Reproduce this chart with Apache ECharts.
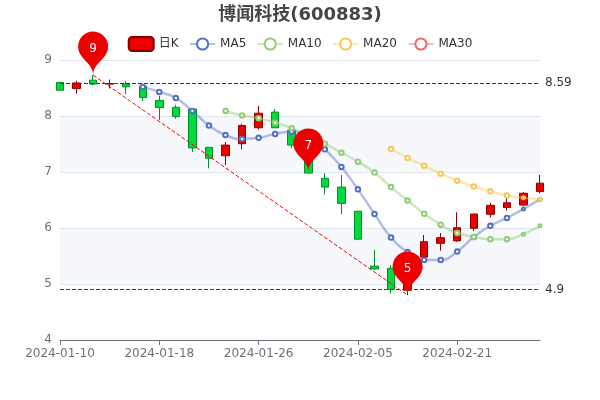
<!DOCTYPE html>
<html><head><meta charset="utf-8">
<script src="https://cdn.jsdelivr.net/npm/echarts@6/dist/echarts.min.js"></script>
<style>html,body{margin:0;padding:0;background:#fff}#c{width:600px;height:400px}</style>
</head><body><div id="c"></div>
<script>
const title = '博闻科技(600883)';
const dates = ['2024-01-10','2024-01-11','2024-01-12','2024-01-15','2024-01-16','2024-01-17','2024-01-18','2024-01-19','2024-01-22','2024-01-23','2024-01-24','2024-01-25','2024-01-26','2024-01-29','2024-01-30','2024-01-31','2024-02-01','2024-02-02','2024-02-05','2024-02-06','2024-02-07','2024-02-08','2024-02-19','2024-02-20','2024-02-21','2024-02-22','2024-02-23','2024-02-26','2024-02-27','2024-02-28'];
const opens  = [8.60,8.49,8.64,8.57,8.57,8.535,8.28,8.155,8.125,7.44,7.29,7.505,7.79,8.07,7.745,7.45,6.887,6.73,6.30,5.32,5.28,4.89,5.48,5.727,5.77,5.995,6.245,6.365,6.41,6.65];
const closes = [8.46,8.59,8.57,8.58,8.52,8.33,8.15,7.99,7.43,7.245,7.48,7.83,8.05,7.79,7.48,6.98,6.73,6.44,5.80,5.27,4.905,5.40,5.755,5.827,6.005,6.25,6.405,6.45,6.62,6.80];
const lows   = [8.46,8.40,8.55,8.49,8.39,8.27,7.93,7.95,7.36,7.065,7.125,7.405,7.76,7.79,7.43,6.98,6.60,6.245,5.80,5.25,4.83,4.80,5.48,5.595,5.755,5.945,6.19,6.31,6.39,6.62];
const highs  = [8.61,8.63,8.73,8.65,8.625,8.535,8.36,8.20,8.125,7.44,7.535,7.86,8.18,8.125,7.75,7.50,6.98,6.95,6.30,5.61,5.34,5.45,5.875,5.91,6.28,6.25,6.45,6.54,6.64,6.95];
const ma5  = ['-','-','-','-','-',8.52,8.43,8.32,8.09,7.83,7.66,7.59,7.61,7.68,7.72,7.68,7.405,7.09,6.69,6.25,5.83,5.57,5.43,5.43,5.58,5.84,6.04,6.18,6.34,6.51];
const ma10 = ['-','-','-','-','-','-','-','-','-','-',8.09,8.01,7.96,7.88,7.78,7.63,7.505,7.345,7.185,6.99,6.73,6.49,6.255,6.06,5.91,5.84,5.80,5.80,5.89,6.04];
const ma20 = ['-','-','-','-','-','-','-','-','-','-','-','-','-','-','-','-','-','-','-','-',7.41,7.25,7.11,6.97,6.845,6.74,6.655,6.58,6.54,6.51];
const ma30 = [];
const pinDates  = ['2024-01-12','2024-01-31','2024-02-08'];
const pinCoords = [8.73,7.0,4.80];
const pinLabels = ['9','7','5'];
const levelValues = [8.59,4.9];
const trendDates = ['2024-01-12','2024-02-08'];
const trendValues = [8.73,4.80];

const chart = echarts.init(document.getElementById('c'), null, {renderer:'canvas'});
const font = 'DejaVu Sans, "Noto Sans CJK SC", sans-serif';
function maSeries(name, data, color){
  return {name, type:'line', data, smooth:true, showSymbol:true, symbol:'emptyCircle',
    symbolSize:(v,p)=>p.dataIndex>=28?3:4.5,
    itemStyle:{color, borderWidth:2},
    lineStyle:{width:2.5, opacity:0.45, color}, animation:false};
}
chart.setOption({
  animation:false,
  color:['#c23531','#5470C6','#91CC75','#FAC858','#EE6666'],
  textStyle:{fontFamily:font},
  title:{text:title, left:'center', top:1, textStyle:{fontSize:18,fontWeight:'bold',color:'#464646',fontFamily:font}},
  legend:{top:31, left:'center', itemGap:10.5, data:['日K','MA5','MA10','MA20','MA30'], textStyle:{fontSize:12,color:'#333',fontFamily:font}},
  grid:{left:60,right:60,top:60,bottom:60},
  xAxis:{type:'category', data:dates, boundaryGap:false,
    axisLine:{lineStyle:{color:'#6E7079'}}, axisTick:{show:true,alignWithLabel:true,interval:5},
    axisLabel:{interval:5,color:'#6E7079',fontSize:12,fontFamily:font,hideOverlap:false}, splitLine:{show:false}},
  yAxis:{type:'value', min:4, max:9, interval:1, axisLine:{show:false}, axisTick:{show:false},
    axisLabel:{color:'#6E7079',fontSize:12,fontFamily:font},
    splitLine:{show:true,lineStyle:{color:'#E0E6F1'}},
    splitArea:{show:true,areaStyle:{color:['rgba(255,255,255,0)','#F6F8FC']}}},
  series:[
    {name:'日K', type:'candlestick', barWidth:8, animation:false,
     data:dates.map((d,i)=>[opens[i],closes[i],lows[i],highs[i]]),
     itemStyle:{color:'#ec0000',color0:'#00da3c',borderColor:'#8A0000',borderColor0:'#008F28'},
     markPoint:{symbol:'pin',symbolSize:50,animation:false,
       itemStyle:{color:'#ec0000'},
       label:{color:'#fff',fontSize:12,fontFamily:font},
       data:pinDates.map((d,i)=>({coord:[d,pinCoords[i]],value:pinLabels[i]}))},
     markLine:{symbol:'none',animation:false,silent:true,
       label:{position:'end',color:'#333',fontSize:12,fontFamily:font},
       data:[
         ...levelValues.map(v=>({yAxis:v,lineStyle:{color:'#c00000',type:'dashed',width:1}})),
         [{coord:[trendDates[0],trendValues[0]],lineStyle:{color:'#ff0000',type:'dashed',width:1},label:{show:false}},
          {coord:[trendDates[1],trendValues[1]]}]
       ]}},
    maSeries('MA5',ma5,'#5470C6'),
    maSeries('MA10',ma10,'#91CC75'),
    maSeries('MA20',ma20,'#FAC858'),
    maSeries('MA30',ma30,'#EE6666')
  ]
});
</script></body></html>
